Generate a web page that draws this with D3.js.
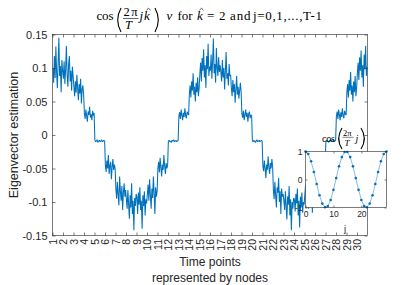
<!DOCTYPE html>
<html>
<head>
<meta charset="utf-8">
<script src="https://cdn.jsdelivr.net/npm/d3@7"></script>
<style>
  body { margin: 0; background: #fff; }
  text { font-family: "Liberation Sans", Arial, Helvetica, sans-serif; fill: #262626; }
  .tex { font-family: "Liberation Serif", "Times New Roman", serif; fill: #000; }
  .it { font-style: italic; }
</style>
</head>
<body>
<svg id="chart" width="407" height="285"></svg>
<script>
/************ data ************/
// x tick labels (time points / nodes)
var xTicks = [1,2,3,4,5,6,7,8,9,10,11,12,13,14,15,16,17,18,19,20,21,22,23,24,25,26,27,28,29,30];
var yTicks = [-0.15,-0.1,-0.05,0,0.05,0.1,0.15];
var yTickLabels = ["-0.15","-0.1","-0.05","0","0.05","0.1","0.15"];

// estimation samples per node (x1000), 14 samples inside each node interval
var node01 = [100,78,118,85,132,92,70,108,145,88,103,64,112,96];
var node02 = [84,110,76,98,133,90,72,105,118,80,96,66,102,88];
var node03 = [72,58,80,63,90,70,52,76,62,84,47,68,74,60];
var node04 = [33,24,38,28,20,35,30,42,26,31,22,36,29,33];
var node05 = [-8,-10,-9,-7,-11,-9,-8,-10,-9,-7,-10,-9,-8,-9];
var node06 = [-45,-55,-38,-50,-30,-58,-46,-40,-66,-48,-36,-52,-44,-50];
var node07 = [-80,-95,-70,-88,-105,-62,-84,-98,-76,-112,-86,-72,-92,-82];
var node08 = [-96,-110,-82,-104,-125,-90,-108,-72,-118,-98,-142,-94,-106,-88];
var node09 = [-92,-118,-86,-104,-78,-112,-98,-140,-90,-106,-84,-120,-96,-102];
var node10 = [-88,-74,-98,-66,-90,-110,-80,-94,-62,-86,-118,-78,-92,-84];
var node11 = [-50,-40,-56,-34,-48,-62,-44,-52,-30,-46,-58,-42,-50,-45];
var node12 = [-9,-8,-10,-9,-11,-8,-9,-7,-10,-9,-8,-10,-9,-8];
var node13 = [28,34,24,38,30,22,33,27,40,29,25,35,31,30];
var node14 = [62,74,56,80,66,92,60,72,50,78,64,86,58,70];
var node15 = [92,108,80,115,96,128,86,104,70,118,98,136,88,102];
var node16 = [96,120,84,110,144,92,106,78,130,100,88,116,94,104];
var node17 = [94,80,112,86,100,68,96,124,84,92,74,106,88,90];
var node18 = [70,58,82,64,76,48,68,88,60,72,54,66,78,64];
var node19 = [32,26,36,22,30,38,27,33,20,31,35,25,30,29];
var node20 = [-9,-10,-8,-9,-11,-9,-7,-10,-9,-8,-10,-9,-8,-9];
var node21 = [-46,-54,-38,-50,-64,-44,-52,-32,-48,-58,-42,-50,-36,-47];
var node22 = [-82,-96,-70,-90,-108,-78,-86,-64,-100,-84,-118,-80,-92,-88];
var node23 = [-98,-112,-84,-106,-126,-92,-104,-76,-120,-96,-142,-100,-110,-94];
var node24 = [-96,-114,-88,-102,-80,-120,-98,-138,-92,-108,-86,-116,-100,-104];
var node25 = [-88,-74,-98,-68,-90,-110,-80,-94,-64,-86,-116,-78,-92,-84];
var node26 = [-50,-40,-56,-34,-48,-62,-44,-52,-30,-46,-58,-42,-50,-45];
var node27 = [-9,-8,-10,-9,-11,-8,-9,-7,-10,-9,-8,-10,-9,-8];
var node28 = [28,35,24,38,30,22,34,27,40,29,25,36,31,30];
var node29 = [64,76,56,82,66,94,60,74,50,80,64,88,58,70];
var node30 = [92,108,82,116,96,126,86,104,72,120,98,133,88,102];
var nodeSamples = [node01,node02,node03,node04,node05,node06,node07,node08,node09,node10,
                   node11,node12,node13,node14,node15,node16,node17,node18,node19,node20,
                   node21,node22,node23,node24,node25,node26,node27,node28,node29,node30];

// inset: cos(2pi/T j)
var insetJ = [0,1,2,3,4,5,6,7,8,9,10,11,12,13,14,15,16,17,18,19,20,21,22,23,24,25,26,27,28,29];
var insetVals = [1,0.91,0.65,0.27,-0.16,-0.56,-0.86,-0.99,-0.95,-0.73,-0.37,0.05,0.47,0.8,0.98,
                 0.98,0.8,0.47,0.05,-0.37,-0.73,-0.95,-0.99,-0.86,-0.56,-0.16,0.27,0.65,0.91,1];
var insetXTicks = [0,10,20];
var insetYTicks = [-1,0,1];

/************ main axes ************/
var svg = d3.select("#chart");
var pLeft = 52.5, pRight = 367.5, pTop = 34.5, pBottom = 235.5;
var blue = "#0072BD";

var x = d3.scaleLinear().domain([1,31]).range([pLeft,pRight]);
var y = d3.scaleLinear().domain([-0.15,0.15]).range([pBottom,pTop]);

// flatten samples into points
var pts = [];
nodeSamples.forEach(function(arr, i) {
  arr.forEach(function(v, k) {
    pts.push({x: xTicks[i] + (k + 0.5) / arr.length, y: v / 1000});
  });
});

svg.append("clipPath").attr("id","clip")
  .append("rect").attr("x",pLeft).attr("y",pTop).attr("width",pRight-pLeft).attr("height",pBottom-pTop);

svg.append("path")
  .datum(pts)
  .attr("clip-path","url(#clip)")
  .attr("fill","none")
  .attr("stroke",blue)
  .attr("stroke-width",1.05)
  .attr("stroke-linejoin","bevel")
  .attr("d", d3.line().x(function(d){return x(d.x);}).y(function(d){return y(d.y);}));

// axes
var gx = svg.append("g").attr("transform","translate(0," + pBottom + ")")
  .call(d3.axisBottom(x).tickValues(xTicks).tickSizeInner(-3).tickSizeOuter(0).tickFormat(String));
gx.selectAll("text")
  .attr("transform","rotate(-90)")
  .attr("x",-3.5).attr("y",0).attr("dy","0.35em")
  .style("text-anchor","end").style("font-size","10.5px");

svg.append("g").attr("transform","translate(0," + pTop + ")")
  .call(d3.axisTop(x).tickValues(xTicks).tickSizeInner(-3).tickSizeOuter(0).tickFormat(""));

var gy = svg.append("g").attr("transform","translate(" + pLeft + ",0)")
  .call(d3.axisLeft(y).tickValues(yTicks).tickSizeInner(-3).tickSizeOuter(0)
    .tickFormat(function(d,i){ return yTickLabels[i]; }).tickPadding(5));
gy.selectAll("text").style("font-size","11px");

svg.append("g").attr("transform","translate(" + pRight + ",0)")
  .call(d3.axisRight(y).tickValues(yTicks).tickSizeInner(-3).tickSizeOuter(0).tickFormat(""));

svg.selectAll(".domain").remove();
svg.selectAll(".tick line").attr("stroke","#262626").attr("stroke-width",0.6);
svg.selectAll(".tick text").attr("fill","#262626");

svg.append("rect")
  .attr("x",pLeft).attr("y",pTop).attr("width",pRight-pLeft).attr("height",pBottom-pTop)
  .attr("fill","none").attr("stroke","#262626").attr("stroke-width",0.6);

// labels
svg.append("text")
  .attr("transform","translate(18,135) rotate(-90)")
  .attr("text-anchor","middle").style("font-size","12.5px")
  .text("Eigenvector estimation");

svg.append("text").attr("x",210).attr("y",266).attr("text-anchor","middle")
  .style("font-size","12px").text("Time points");
svg.append("text").attr("x",210).attr("y",282).attr("text-anchor","middle")
  .style("font-size","12px").text("represented by nodes");

/************ title (latex-like) ************/
var tt = svg.append("g");
function tex(g, xp, yp, s, size, cls) {
  return g.append("text").attr("class","tex " + (cls || ""))
    .attr("x",xp).attr("y",yp).style("font-size",size + "px").text(s);
}
function paren(g, xp, y0, y1, dir) {
  // thin big parenthesis
  var w = 3 * dir;
  g.append("path")
    .attr("d","M" + (xp + w) + "," + y0 + " Q" + (xp - w*1.2) + "," + ((y0+y1)/2) + " " + (xp + w) + "," + y1)
    .attr("fill","none").attr("stroke","#000").attr("stroke-width",1.1);
}
function hat(g, xp, yp) {
  g.append("path").attr("d","M" + (xp-2) + "," + (yp+1.8) + " L" + xp + "," + yp + " L" + (xp+2) + "," + (yp+1.8))
    .attr("fill","none").attr("stroke","#000").attr("stroke-width",0.7);
}
tex(tt, 96.5, 20, "cos", 13).attr("textLength",17);
paren(tt, 118, 8, 32, 1);
tex(tt, 123.5, 16.3, "2π", 12.5).attr("textLength",14);
tt.append("line").attr("x1",123).attr("x2",138.5).attr("y1",18.5).attr("y2",18.5)
  .attr("stroke","#000").attr("stroke-width",0.6);
tex(tt, 125, 29.3, "T", 12.5, "it");
tex(tt, 139.5, 20, "j", 13, "it");
tex(tt, 144, 20, "k", 13, "it");
hat(tt, 148.5, 8.3);
paren(tt, 158, 8, 32, -1);
tex(tt, 166.5, 20, "v", 13, "it");
tex(tt, 177.5, 20, "for", 13).attr("textLength",15);
tex(tt, 197, 20, "k", 13, "it");
hat(tt, 201.5, 8.3);
tex(tt, 207, 20, "=", 13);
tex(tt, 219, 20, "2", 13);
tex(tt, 230, 20, "and", 13).attr("textLength",20.5);
tex(tt, 253, 20, "j=0,1,...,T-1", 13).attr("textLength",69);

/************ inset ************/
var il = 305.5, ir = 386.5, iTop = 151.5, iBot = 207.5;
var xi = d3.scaleLinear().domain([0,29]).range([il,ir]);
var yi = d3.scaleLinear().domain([-1,1]).range([iBot,iTop]);
var ins = svg.append("g");

ins.append("rect").attr("x",il).attr("y",iTop).attr("width",ir-il).attr("height",iBot-iTop)
  .attr("fill","#fff");

ins.append("path")
  .datum(insetJ)
  .attr("fill","none").attr("stroke",blue).attr("stroke-width",0.6).attr("stroke-opacity",0.8)
  .attr("d", d3.line().x(function(d){return xi(d);}).y(function(d,i){return yi(insetVals[i]);}));

ins.selectAll("circle.pt").data(insetJ).enter().append("circle")
  .attr("class","pt")
  .attr("cx",function(d){return xi(d);})
  .attr("cy",function(d,i){return yi(insetVals[i]);})
  .attr("r",1.3).attr("fill",blue);

var ix = ins.append("g").attr("transform","translate(0," + iBot + ")")
  .call(d3.axisBottom(xi).tickValues(insetXTicks).tickSizeInner(-2).tickSizeOuter(0).tickPadding(3).tickFormat(String));
ix.selectAll("text").style("font-size","8.5px");
ins.append("g").attr("transform","translate(0," + iTop + ")")
  .call(d3.axisTop(xi).tickValues(insetXTicks).tickSizeInner(-2).tickSizeOuter(0).tickFormat(""));
var iy = ins.append("g").attr("transform","translate(" + il + ",0)")
  .call(d3.axisLeft(yi).tickValues(insetYTicks).tickSizeInner(-2).tickSizeOuter(0).tickPadding(3).tickFormat(String));
iy.selectAll("text").style("font-size","8.5px");
ins.append("g").attr("transform","translate(" + ir + ",0)")
  .call(d3.axisRight(yi).tickValues(insetYTicks).tickSizeInner(-2).tickSizeOuter(0).tickFormat(""));
ins.selectAll(".domain").remove();
ins.selectAll(".tick line").attr("stroke","#262626").attr("stroke-width",0.6);
ins.selectAll(".tick text").attr("fill","#262626");
ins.append("rect").attr("x",il).attr("y",iTop).attr("width",ir-il).attr("height",iBot-iTop)
  .attr("fill","none").attr("stroke","#262626").attr("stroke-width",0.6);

ins.append("text").attr("x",345).attr("y",232).attr("text-anchor","middle")
  .style("font-size","9.5px").text("j");

// inset title
var ti = svg.append("g");
tex(ti, 322, 142, "cos", 10).attr("textLength",13);
paren(ti, 339, 128, 149, 1);
tex(ti, 343, 135.5, "2π", 8.5);
ti.append("line").attr("x1",342.5).attr("x2",353.5).attr("y1",137.3).attr("y2",137.3)
  .attr("stroke","#000").attr("stroke-width",0.5);
tex(ti, 344.5, 145.8, "T", 9, "it");
tex(ti, 355.5, 142, "j", 10, "it");
paren(ti, 364, 128, 149, -1);
</script>
</body>
</html>
